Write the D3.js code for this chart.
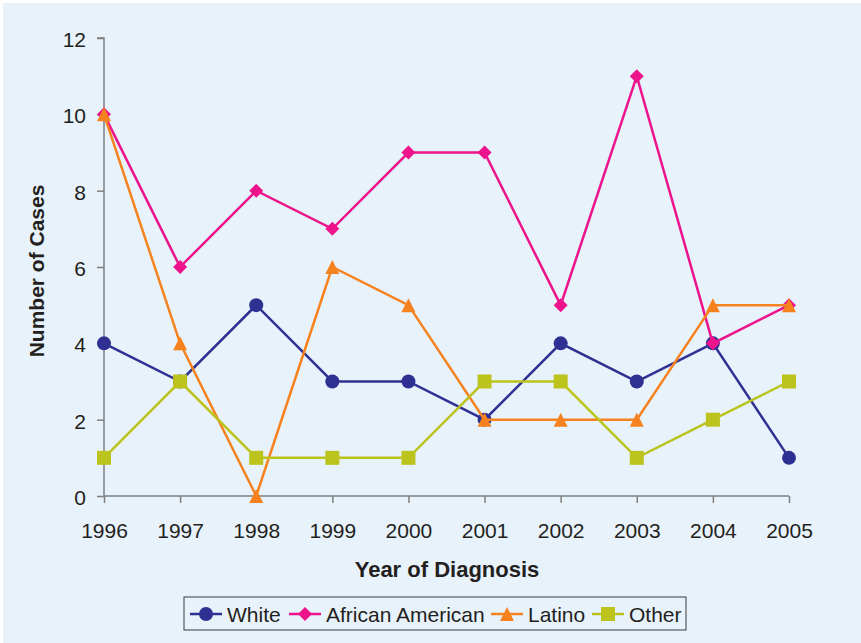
<!DOCTYPE html>
<html><head><meta charset="utf-8">
<script src="https://cdn.jsdelivr.net/npm/d3@7"></script>
<style>body{margin:0;background:#fff;}svg{display:block;}</style>
</head><body><svg id="c" width="861" height="643"></svg>
<script>
const years = ["1996","1997","1998","1999","2000","2001","2002","2003","2004","2005"];
const white = [4,3,5,3,3,2,4,3,4,1];
const africanAmerican = [10,6,8,7,9,9,5,11,4,5];
const latino = [10,4,0,6,5,2,2,2,5,5];
const other = [1,3,1,1,1,3,3,1,2,3];
const yTicks = [0,2,4,6,8,10,12];
const seriesNames = ["White","African American","Latino","Other"];

const series = [
  {name: seriesNames[0], values: white, color: "#2e3192", shape: "circle"},
  {name: seriesNames[1], values: africanAmerican, color: "#ec138c", shape: "diamond"},
  {name: seriesNames[2], values: latino, color: "#f5821f", shape: "triangle"},
  {name: seriesNames[3], values: other, color: "#bcc31c", shape: "square"}
];

const svg = d3.select("#c");
svg.append("rect").attr("x",3).attr("y",3).attr("width",858).attr("height",640)
  .attr("fill","#e8f2fb");

const x = d3.scalePoint().domain(years).range([104,789]);
const y = d3.scaleLinear().domain([0,12]).range([496,38]);
const font = "'Liberation Sans', Arial, sans-serif";
const axisColor = "#7f7f7f";
const textColor = "#231f20";

// Y axis
const ya = svg.append("g").attr("transform","translate(104,0)")
  .call(d3.axisLeft(y).tickValues(yTicks).tickSize(7).tickPadding(11));
// X axis
const xa = svg.append("g").attr("transform","translate(0,496)")
  .call(d3.axisBottom(x).tickSize(7));
[ya,xa].forEach(a=>{
  a.select(".domain").attr("stroke",axisColor).attr("stroke-width",1.5);
  a.selectAll(".tick line").attr("stroke",axisColor).attr("stroke-width",1.5);
  a.selectAll("text").attr("font-family",font).attr("font-size",21).attr("fill",textColor);
});
ya.select(".domain").attr("d","M-7,38H0V496");
xa.select(".domain").attr("d","M104,0H789");
xa.selectAll(".tick text").attr("y",42).attr("dy",0);
ya.selectAll(".tick text").attr("dy","0.4em");

svg.append("text").attr("x",447).attr("y",577).attr("text-anchor","middle")
  .attr("font-family",font).attr("font-size",22).attr("font-weight","bold").attr("fill",textColor)
  .text("Year of Diagnosis");
svg.append("text").attr("transform","translate(44,271) rotate(-90)").attr("text-anchor","middle")
  .attr("font-family",font).attr("font-size",21).attr("font-weight","bold").attr("fill",textColor)
  .text("Number of Cases");

function drawMarker(g, shape, color, cx, cy){
  if(shape==="circle") g.append("circle").attr("cx",cx).attr("cy",cy).attr("r",7).attr("fill",color);
  else if(shape==="diamond") g.append("path").attr("d",`M${cx},${cy-7}L${cx+7},${cy}L${cx},${cy+7}L${cx-7},${cy}Z`).attr("fill",color);
  else if(shape==="triangle") g.append("path").attr("d",`M${cx},${cy-7}L${cx+7},${cy+7}L${cx-7},${cy+7}Z`).attr("fill",color);
  else g.append("rect").attr("x",cx-7).attr("y",cy-7).attr("width",14).attr("height",14).attr("fill",color);
}

const line = d3.line().x((d,i)=>x(years[i])).y(d=>y(d));
series.forEach(s=>{
  const g = svg.append("g");
  g.append("path").attr("d",line(s.values)).attr("fill","none").attr("stroke",s.color).attr("stroke-width",2.5);
  s.values.forEach((v,i)=>drawMarker(g,s.shape,s.color,x(years[i]),y(v)));
});

// Legend
const lg = svg.append("g");
lg.append("rect").attr("x",184).attr("y",597).attr("width",502).attr("height",33)
  .attr("fill","#e8f2fb").attr("stroke","#3a3a3a").attr("stroke-width",1);
const legendX = [190,289,491,592];
series.forEach((s,i)=>{
  const lx = legendX[i], ly = 614;
  lg.append("line").attr("x1",lx).attr("x2",lx+32).attr("y1",ly).attr("y2",ly).attr("stroke",s.color).attr("stroke-width",2.5);
  drawMarker(lg,s.shape,s.color,lx+16,ly);
  lg.append("text").attr("x",lx+37).attr("y",ly).attr("dy","0.36em")
    .attr("font-family",font).attr("font-size",21).attr("fill",textColor).text(s.name);
});
</script></body></html>
